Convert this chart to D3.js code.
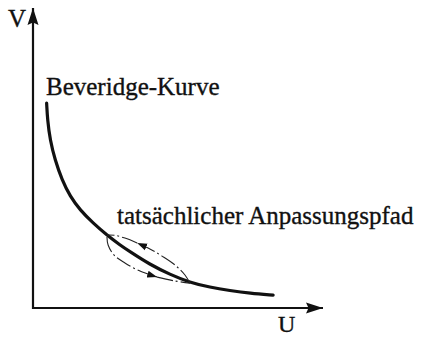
<!DOCTYPE html>
<html>
<meta charset="utf-8">
<style>
  body { margin: 0; background: #fff; }
  text { font-family: "Liberation Serif", "Times New Roman", serif; fill: #111; stroke: #111; stroke-width: 0.35px; }
</style>

<body>
  <svg></svg>
</body>

<script src="https://d3js.org/d3.v7.min.js"></script>

<script>

  var width = 425;
  var height = 337;

  var svg = d3.select("svg")
    .attr("width", width)
    .attr("height", height);

  // axis labels and annotation texts
  var axisLabels = { x: "U", y: "V" };
  var curveLabel = "Beveridge-Kurve";
  var pathLabel = "tatsächlicher Anpassungspfad";

  // Beveridge curve (U, V)
  var curveU = [0.47, 0.50, 0.59, 0.76, 1.00, 1.28, 1.62, 2.07, 2.55, 3.00, 3.34, 4.03, 4.72, 5.41, 6.10, 6.79, 7.48, 8.28];
  var curveV = [6.83, 6.27, 5.60, 4.93, 4.27, 3.72, 3.27, 2.83, 2.43, 2.10, 1.88, 1.45, 1.12, 0.85, 0.69, 0.58, 0.49, 0.43];

  // adjustment loop: lower branch goes right, upper branch comes back
  var lowerU = [2.55, 2.59, 2.79, 3.17, 3.69, 4.28, 4.90, 5.41];
  var lowerV = [2.37, 2.10, 1.77, 1.50, 1.23, 1.03, 0.90, 0.83];
  var upperU = [5.41, 5.24, 4.90, 4.45, 4.03, 3.59, 3.17, 2.83, 2.55];
  var upperV = [0.83, 1.10, 1.43, 1.73, 1.97, 2.17, 2.33, 2.42, 2.43];
  // index where the arrow head sits on each branch
  var lowerArrowAt = 5;
  var upperArrowAt = 5;

  var xScale = d3.scaleLinear()
    .domain([0, 10])
    .range([33, 323]);

  var yScale = d3.scaleLinear()
    .domain([0, 10])
    .range([308, 8]);

  var zip = (us, vs) => us.map((u, i) => [u, vs[i]]);

  // markers
  var defs = svg.append("defs");
  defs.append("marker")
    .attr("id", "bigArrow")
    .attr("markerUnits", "userSpaceOnUse")
    .attr("viewBox", "0 -6 18 12")
    .attr("refX", 17).attr("refY", 0)
    .attr("markerWidth", 18).attr("markerHeight", 12)
    .attr("orient", "auto")
    .append("path")
    .attr("d", "M0,-5.5L17,0L0,5.5L2.5,0Z")
    .attr("fill", "#111");

  defs.append("marker")
    .attr("id", "smallArrow")
    .attr("markerUnits", "userSpaceOnUse")
    .attr("viewBox", "0 -4 11 8")
    .attr("refX", 10).attr("refY", 0)
    .attr("markerWidth", 11).attr("markerHeight", 8)
    .attr("orient", "auto")
    .append("path")
    .attr("d", "M0,-3.5L10,0L0,3.5Z")
    .attr("fill", "#111");

  // axes
  svg.append("line")
    .attr("x1", xScale(0) - 1).attr("y1", yScale(0))
    .attr("x2", xScale(10)).attr("y2", yScale(0))
    .attr("stroke", "#111").attr("stroke-width", 2.2)
    .attr("marker-end", "url(#bigArrow)");

  svg.append("line")
    .attr("x1", xScale(0)).attr("y1", yScale(0) + 1)
    .attr("x2", xScale(0)).attr("y2", yScale(10))
    .attr("stroke", "#111").attr("stroke-width", 2.2)
    .attr("marker-end", "url(#bigArrow)");

  svg.append("text")
    .attr("x", 8).attr("y", 27)
    .style("font-size", "25px")
    .text(axisLabels.y);

  svg.append("text")
    .attr("x", 278).attr("y", 332)
    .style("font-size", "24px")
    .text(axisLabels.x);

  var line = d3.line()
    .x(d => xScale(d[0]))
    .y(d => yScale(d[1]))
    .curve(d3.curveBasis);

  var thin = d3.line()
    .x(d => xScale(d[0]))
    .y(d => yScale(d[1]))
    .curve(d3.curveCatmullRom);

  // Beveridge curve
  svg.append("path")
    .datum(zip(curveU, curveV))
    .attr("d", line)
    .attr("fill", "none")
    .attr("stroke", "#111")
    .attr("stroke-width", 3.2)
    .attr("stroke-linecap", "round");

  // adjustment path, split at the arrow heads
  function branch(us, vs, at) {
    var pts = zip(us, vs);
    return [pts.slice(0, at + 1), pts.slice(at)];
  }

  [branch(lowerU, lowerV, lowerArrowAt), branch(upperU, upperV, upperArrowAt)].forEach(parts => {
    svg.append("path")
      .datum(parts[0])
      .attr("d", thin)
      .attr("fill", "none")
      .attr("stroke", "#222")
      .attr("stroke-width", 1.1)
      .attr("stroke-dasharray", "16,3,2,3")
      .attr("marker-end", "url(#smallArrow)");
    svg.append("path")
      .datum(parts[1])
      .attr("d", thin)
      .attr("fill", "none")
      .attr("stroke", "#222")
      .attr("stroke-width", 1.1)
      .attr("stroke-dasharray", "16,3,2,3");
  });

  // labels
  svg.append("text")
    .attr("x", 46).attr("y", 95)
    .style("font-size", "25px")
    .text(curveLabel);

  svg.append("text")
    .attr("x", 117).attr("y", 224)
    .style("font-size", "25px")
    .text(pathLabel);

</script>

</html>
